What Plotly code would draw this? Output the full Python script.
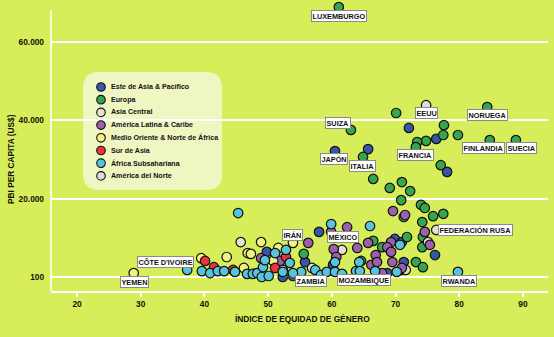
import plotly.graph_objects as go

# ---------------- data ----------------
regions = ["Este de Asia & Pacífico", "Europa", "Asia Central", "América Latina & Caribe",
           "Medio Oriente & Norte de África", "Sur de Asia", "África Subsahariana", "América del Norte"]
colors = ["#3856a6", "#36a54b", "#e4e2cc", "#9c5fae", "#f4f27e", "#e8333e", "#58c4d8", "#dcdce4"]

asia_pac_x = [72.1, 76.4, 60.5, 65.7, 78.1, 58.0, 69.9, 71.0, 76.2, 55.8, 71.3, 60.2, 53.9, 52.3, 68.7, 71.0, 49.8]
asia_pac_y = [38100, 35300, 32200, 32700, 26900, 11600, 9800, 9000, 5700, 3900, 3900, 3200, 350, 100, 1100, 1900, 6500]

europa_x = [61.1, 70.1, 84.4, 63.0, 77.6, 77.5, 79.8, 74.8, 73.4, 73.2, 84.8, 88.9, 64.9, 77.1, 66.5, 71.0, 69.1,
            72.3, 70.9, 74.0, 74.6, 71.3, 75.9, 77.5, 74.2, 74.3, 71.8, 74.2, 66.5, 67.9, 55.6, 73.2, 74.3, 64.6]
europa_y = [68900, 41900, 43400, 37600, 38800, 36300, 36300, 34800, 34500, 33200, 35000, 35000, 30700, 28600, 25100,
            24300, 22800, 22000, 19700, 18500, 17700, 15400, 15600, 16200, 14100, 10300, 10300, 7700, 9300, 7700,
            6000, 3900, 2600, 4200]

asia_central_x = [45.7, 61.6, 56.9, 52.3, 71.6, 75.1, 76.4]
asia_central_y = [9000, 7000, 2400, 1900, 1900, 9000, 12100]

latam_x = [69.6, 71.5, 62.4, 59.9, 56.3, 60.3, 64.0, 65.7, 69.3, 68.7, 74.6, 75.4, 66.9, 69.3, 60.7, 66.2, 69.5,
           67.9, 71.0, 48.9, 51.9, 67.1]
latam_y = [16900, 15900, 12800, 11600, 8800, 7200, 7500, 8800, 9000, 7700, 11600, 8300, 5700, 6500, 5200, 3200,
           3900, 1100, 2400, 4900, 4200, 3900]

mena_x = [28.9, 53.9, 48.9, 46.8, 47.3, 43.5, 51.6, 50.8, 39.5, 46.2]
mena_y = [1100, 8800, 9000, 6200, 6000, 5200, 7500, 4200, 4900, 2400]

sur_asia_x = [40.1, 41.5, 44.5, 51.1, 52.8]
sur_asia_y = [4200, 2600, 1900, 2400, 5200]

africa_x = [45.3, 37.3, 39.6, 40.9, 42.1, 43.1, 44.8, 46.7, 47.6, 48.3, 49.0, 50.1, 49.2, 49.5, 51.1, 52.8, 53.4,
            55.2, 52.3, 57.4, 58.3, 59.2, 60.5, 61.6, 59.9, 66.0, 70.7, 64.3, 63.8, 64.4, 70.2, 79.8, 60.5, 53.9, 66.8]
africa_y = [16400, 1900, 1600, 1100, 1600, 1600, 1400, 900, 900, 1100, 100, 350, 2600, 4400, 6200, 7000, 3700,
            1400, 1400, 1900, 600, 1400, 1400, 900, 13600, 13100, 8300, 3900, 1600, 1600, 1400, 1400, 3900, 1100, 1600]

norte_x = [74.8]
norte_y = [43900]

series_x = [asia_pac_x, europa_x, asia_central_x, latam_x, mena_x, sur_asia_x, africa_x, norte_x]
series_y = [asia_pac_y, europa_y, asia_central_y, latam_y, mena_y, sur_asia_y, africa_y, norte_y]

x_ticks = [20, 30, 40, 50, 60, 70, 80, 90]
y_ticks = [100, 20000, 40000, 60000]
y_tick_text = ["100", "20.000", "40.000", "60.000"]

# country labels: name, text x, text y (data units); leader-line targets for two of them
label_names = ["LUXEMBURGO", "EEUU", "NORUEGA", "SUIZA", "FRANCIA", "FINLANDIA", "SUECIA", "JAPÓN", "ITALIA",
               "FEDERACIÓN RUSA", "IRÁN", "MÉXICO", "CÔTE D'IVOIRE", "YEMEN", "RWANDA", "ZAMBIA", "MOZAMBIQUE"]
label_x = [61.1, 74.9, 84.4, 61.05, 73.2, 83.8, 89.8, 60.4, 64.8, 82.5, 53.9, 61.8, 33.9, 29.0, 79.9, 56.7, 65.1]
label_y = [66750, 41900, 41400, 39480, 31320, 33100, 33100, 30180, 28520, 12080, 10800, 10170, 3800, -1050, -930,
           -830, -700]
leader_target = {"ZAMBIA": (52.6, 300), "MOZAMBIQUE": (64.6, 900)}

# ---------------- style ----------------
BG = "#d8ed5a"
FONT = "Liberation Sans, Arial, sans-serif"
W, H = 554, 337
L, R, T, B = 51, 548, 2, 291   # plot area in pixels
AXIS_TOP = 10

def fx(px):
    return (px - L) / (R - L)

def fy(py):
    return (B - py) / (B - T)

fig = go.Figure()
for name, c, xs, ys in zip(regions, colors, series_x, series_y):
    fig.add_trace(go.Scatter(
        x=xs, y=ys, mode="markers", name=name, showlegend=False, cliponaxis=False,
        marker=dict(size=9.5, color=c, line=dict(color="#111111", width=1.2)),
    ))

annotations = []
for name, lx, ly in zip(label_names, label_x, label_y):
    a = dict(x=lx, y=ly, xref="x", yref="y", text=name,
             font=dict(family=FONT, size=7.3, color="#111111", weight="bold"),
             bgcolor="white", bordercolor="#8a8a8a", borderwidth=1, borderpad=0.5,
             showarrow=False)
    if name in leader_target:
        tx, ty = leader_target[name]
        a.update(showarrow=True, arrowhead=0, arrowwidth=0.8, arrowcolor="#777777",
                 axref="x", ayref="y", ax=lx, ay=ly, x=tx, y=ty)
    annotations.append(a)

# legend (manual, to match the tight spacing)
shapes = []
bx0, bx1, by0, by1, rr = 83, 222, 72, 190, 16
path = (f"M {fx(bx0 + rr)} {fy(by0)} L {fx(bx1 - rr)} {fy(by0)} "
        f"Q {fx(bx1)} {fy(by0)} {fx(bx1)} {fy(by0 + rr)} L {fx(bx1)} {fy(by1 - rr)} "
        f"Q {fx(bx1)} {fy(by1)} {fx(bx1 - rr)} {fy(by1)} L {fx(bx0 + rr)} {fy(by1)} "
        f"Q {fx(bx0)} {fy(by1)} {fx(bx0)} {fy(by1 - rr)} L {fx(bx0)} {fy(by0 + rr)} "
        f"Q {fx(bx0)} {fy(by0)} {fx(bx0 + rr)} {fy(by0)} Z")
shapes.append(dict(type="path", xref="paper", yref="paper", path=path,
                   fillcolor="#f0f6c2", line=dict(width=0), layer="below"))
for i, (name, c) in enumerate(zip(regions, colors)):
    py = 87 + 12.7 * i
    shapes.append(dict(type="circle", xref="paper", yref="paper", xsizemode="pixel", ysizemode="pixel",
                       xanchor=fx(101), yanchor=fy(py), x0=-4.3, x1=4.3, y0=-4.3, y1=4.3,
                       fillcolor=c, line=dict(color="#111111", width=1.1), layer="above"))
    annotations.append(dict(x=fx(108.5), y=fy(py), xref="paper", yref="paper", text=name,
                            xanchor="left", yanchor="middle", showarrow=False,
                            font=dict(family=FONT, size=7.1, color="#111111", weight="bold")))

# y axis line (stops below the plot top, as in the original)
shapes.append(dict(type="line", xref="paper", yref="paper", x0=0, x1=0, y0=0, y1=fy(AXIS_TOP),
                   line=dict(color="white", width=1.5), layer="below"))

# axis titles
annotations.append(dict(x=fx(302), y=fy(319), xref="paper", yref="paper", text="ÍNDICE DE EQUIDAD DE GÉNERO",
                        xanchor="center", yanchor="middle", showarrow=False,
                        font=dict(family=FONT, size=8.3, color="#111111", weight="bold")))
annotations.append(dict(x=fx(11), y=fy(159), xref="paper", yref="paper", text="PBI PER CAPITA (US$)",
                        xanchor="center", yanchor="middle", showarrow=False, textangle=-90,
                        font=dict(family=FONT, size=8.3, color="#111111", weight="bold")))

x_lo = 20 + (L - 77) / 6.37
x_hi = 20 + (R - 77) / 6.37
y_lo = 70706 - 254.9 * B
y_hi = 70706 - 254.9 * T

fig.update_layout(
    width=W, height=H,
    margin=dict(l=L, r=W - R, t=T, b=H - B),
    paper_bgcolor=BG, plot_bgcolor=BG,
    font=dict(family=FONT, size=9, color="#111111", weight="bold"),
    xaxis=dict(range=[x_lo, x_hi], tickvals=x_ticks, showgrid=False, zeroline=False,
               showline=True, linecolor="white", linewidth=1.5,
               ticks="outside", ticklen=4, tickwidth=1.5, tickcolor="white",
               tickfont=dict(family=FONT, size=8.3, color="#111111", weight="bold")),
    yaxis=dict(range=[y_lo, y_hi], tickvals=y_ticks, ticktext=y_tick_text, showgrid=True,
               gridcolor="white", gridwidth=1.5, zeroline=False,
               showline=False, ticks="", ticklabelstandoff=6,
               tickfont=dict(family=FONT, size=8.3, color="#111111", weight="bold")),
    shapes=shapes, annotations=annotations,
)

fig.write_html("out.html")
